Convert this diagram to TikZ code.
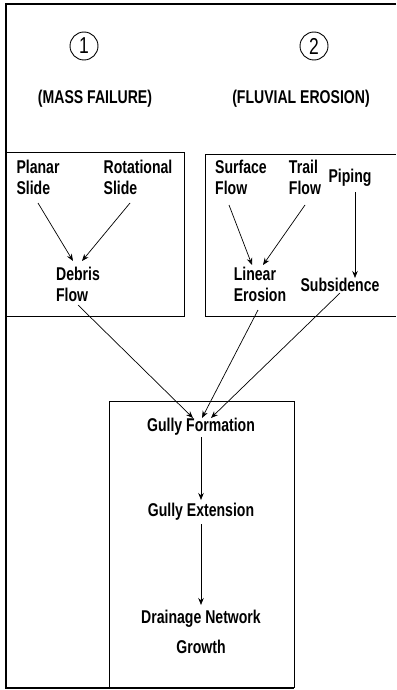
\documentclass[tikz,border=0pt]{standalone}
\usepackage{fontspec}
\setmainfont[FakeStretch=0.76]{Liberation Sans}
\usetikzlibrary{arrows.meta,calc}
\tikzset{
  lbl/.style={font=\bfseries\fontsize{18.5}{21}\selectfont, inner sep=0pt, align=left},
  lblc/.style={font=\bfseries\fontsize{18.5}{30}\selectfont, inner sep=0pt, align=center},
  head/.style={font=\bfseries\fontsize{18.5}{21}\selectfont, inner sep=0pt},
  num/.style={draw, circle, line width=0.9pt, minimum size=28pt, inner sep=0pt, font=\fontsize{23}{24}\selectfont},
  box/.style={line width=0.8pt},
  frame/.style={line width=1.2pt},
  arr/.style={-{Stealth[length=7pt,width=5.5pt]}, line width=0.7pt}
}
\begin{document}
\begin{tikzpicture}[x=1pt,y=-1pt]
\useasboundingbox (0,0) rectangle (396,690);
% outer frame
\draw[frame] (396,4) -- (6,4) -- (6,688) -- (294,688);
% boxes
\draw[box] (6,152) -- (184,152) -- (184,316) -- (6,316);
\draw[box] (396,154) -- (205,154) -- (205,316) -- (396,316);
\draw[box] (109,688) -- (109,401) -- (294,401) -- (294,688);
% headings
\node[num] (n1) at (84,46) {1};
\node[num] (n2) at (314,46) {2};
\node[head] (mf) at (95,99) {(MASS FAILURE)};
\node[head] (fe) at (301,99) {(FLUVIAL EROSION)};
% left box
\node[lbl] (ps) at (38,177) {Planar\\Slide};
\node[lbl] (rs) at (138,177) {Rotational\\Slide};
\node[lbl] (df) at (78,284) {Debris\\Flow};
% right box
\node[lbl] (sf) at (241,177) {Surface\\Flow};
\node[lbl] (tf) at (305,177) {Trail\\Flow};
\node[lbl] (pp) at (350,178) {Piping};
\node[lbl] (le) at (260,284) {Linear\\Erosion};
\node[lbl] (sb) at (340,285) {Subsidence};
% lower box
\node[head] (gf) at (201,427) {Gully Formation};
\node[head] (ge) at (201,512) {Gully Extension};
\node[lblc] (dn) at (201,632) {Drainage Network\\Growth};
% arrows
\draw[arr] ($(ps.center)+(0,26)$) -- ($(df.center)+(-5,-23)$);
\draw[arr] ($(rs.center)+(-8,26)$) -- ($(df.center)+(4,-23)$);
\draw[arr] ($(sf.center)+(-12,28)$) -- ($(le.center)+(-8,-19)$);
\draw[arr] ($(tf.center)+(0,28)$) -- ($(le.center)+(3,-19)$);
\draw[arr] ($(pp.center)+(5,14)$) -- ($(sb.center)+(15,-7)$);
\draw[arr] ($(df.center)+(0,21)$) -- ($(gf.center)+(-8,-9)$);
\draw[arr] ($(le.center)+(-2,26)$) -- ($(gf.center)+(1,-9)$);
\draw[arr] ($(sb.center)+(0,8)$) -- ($(gf.center)+(10,-9)$);
\draw[arr] ($(gf.center)+(0,10)$) -- ($(ge.center)+(0,-12)$);
\draw[arr] ($(ge.center)+(0,12)$) -- ($(dn.center)+(0,-27)$);
\end{tikzpicture}
\end{document}
